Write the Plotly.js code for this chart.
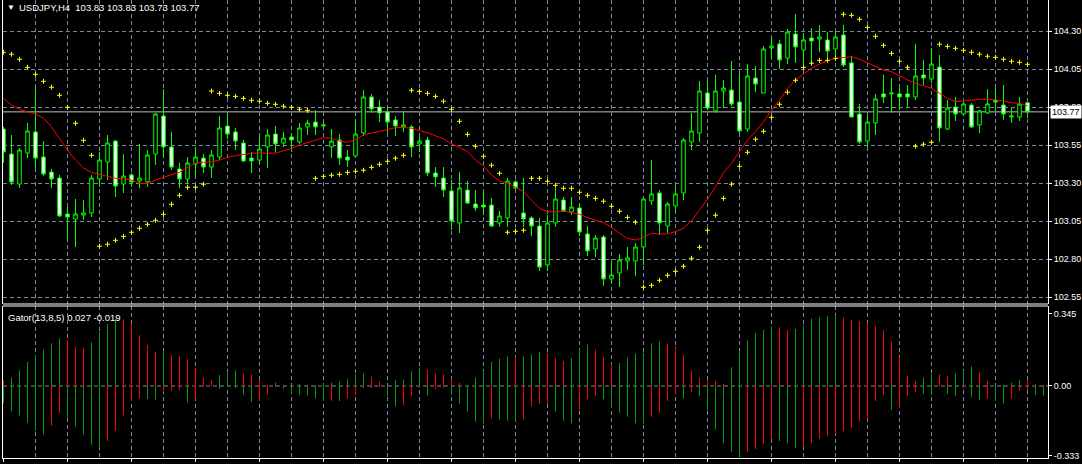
<!DOCTYPE html>
<html><head><meta charset="utf-8">
<script src="https://cdn.plot.ly/plotly-3.0.1.min.js"></script>
<style>html,body{margin:0;padding:0;background:#000;overflow:hidden}#chart{width:1082px;height:464px}</style>
</head><body><div id="chart"></div>
<script>
// ---- price bars (USDJPY, H4) ----
const opens = [103.657,103.493,103.295,103.499,103.638,103.473,103.374,103.335,103.098,103.065,103.091,103.105,103.328,103.440,103.578,103.295,103.355,103.315,103.309,103.493,103.743,103.539,103.394,103.328,103.427,103.466,103.407,103.473,103.677,103.638,103.565,103.466,103.453,103.539,103.624,103.565,103.605,103.572,103.671,103.703,103.677,103.539,103.585,103.473,103.480,103.631,103.868,103.802,103.769,103.717,103.671,103.671,103.559,103.585,103.368,103.335,103.250,103.039,103.256,103.164,103.157,103.157,103.039,103.072,103.309,103.105,103.072,103.019,102.763,103.039,103.190,103.111,103.138,102.967,102.868,102.947,102.671,102.710,102.789,102.789,102.881,103.184,103.236,103.019,103.151,103.236,103.572,103.631,103.894,103.776,103.907,103.914,103.835,103.657,103.993,103.894,104.190,104.217,104.124,104.282,104.177,104.256,104.249,104.243,104.184,104.276,104.092,103.756,103.578,103.697,103.888,103.888,103.888,103.888,103.868,104.013,103.986,104.065,103.657,103.802,103.756,103.815,103.684,103.763,103.848,103.815,103.736,103.736,103.83];
const highs = [103.671,103.618,103.532,103.697,103.934,103.578,103.394,103.355,103.144,103.197,103.190,103.355,103.506,103.618,103.585,103.493,103.368,103.559,103.519,103.763,103.920,103.638,103.434,103.473,103.539,103.493,103.519,103.743,103.756,103.664,103.585,103.506,103.611,103.657,103.677,103.638,103.631,103.697,103.717,103.782,103.703,103.657,103.624,103.519,103.723,103.914,103.888,103.848,103.802,103.743,103.769,103.684,103.605,103.605,103.407,103.407,103.322,103.374,103.315,103.256,103.243,103.203,103.118,103.335,103.322,103.335,103.085,103.072,103.091,103.269,103.210,103.210,103.170,103.019,102.960,102.960,102.776,102.835,102.881,102.907,103.203,103.453,103.256,103.177,103.282,103.598,103.763,103.973,103.973,104.013,103.980,104.105,104.032,104.085,104.072,104.203,104.263,104.243,104.315,104.414,104.289,104.322,104.342,104.295,104.302,104.342,104.138,103.822,103.749,103.888,104.013,103.993,103.927,103.947,104.217,104.111,104.190,104.144,103.848,103.868,103.835,103.828,103.782,103.920,103.927,103.947,103.795,103.868,103.83];
const lows = [103.434,103.289,103.269,103.466,103.401,103.348,103.269,103.078,102.940,102.881,103.059,103.078,103.276,103.322,103.210,103.236,103.276,103.269,103.276,103.421,103.466,103.388,103.269,103.295,103.348,103.368,103.335,103.453,103.592,103.519,103.440,103.368,103.421,103.401,103.506,103.539,103.506,103.559,103.618,103.618,103.664,103.466,103.421,103.407,103.473,103.611,103.763,103.703,103.631,103.611,103.638,103.473,103.506,103.348,103.276,103.210,102.993,102.973,103.165,103.118,103.091,103.013,103.013,103.013,103.256,103.013,102.953,102.723,102.723,103.013,103.111,103.091,102.953,102.822,102.815,102.624,102.644,102.618,102.730,102.690,102.763,103.157,102.960,102.973,103.124,103.190,103.519,103.572,103.782,103.763,103.795,103.809,103.631,103.638,103.901,103.894,104.124,104.052,104.085,104.092,104.045,104.098,104.164,104.105,104.124,104.065,103.733,103.559,103.539,103.618,103.828,103.763,103.782,103.802,103.848,103.947,103.960,103.572,103.651,103.710,103.749,103.664,103.631,103.756,103.776,103.717,103.697,103.710,103.73];
const closes = [103.506,103.309,103.519,103.644,103.466,103.361,103.328,103.085,103.078,103.098,103.105,103.335,103.453,103.565,103.282,103.348,103.309,103.335,103.486,103.756,103.539,103.407,103.328,103.434,103.473,103.407,103.486,103.664,103.624,103.578,103.447,103.447,103.526,103.618,103.559,103.598,103.585,103.664,103.697,103.671,103.684,103.578,103.466,103.453,103.624,103.868,103.789,103.763,103.703,103.677,103.684,103.539,103.578,103.368,103.342,103.256,103.052,103.269,103.170,103.138,103.144,103.019,103.085,103.315,103.269,103.065,103.019,102.749,103.039,103.197,103.118,103.144,102.980,102.855,102.940,102.671,102.697,102.796,102.809,102.881,103.197,103.230,103.039,103.164,103.230,103.585,103.644,103.907,103.795,103.907,103.927,103.822,103.644,104.006,103.953,104.184,104.203,104.111,104.295,104.197,104.243,104.236,104.263,104.170,104.263,104.078,103.736,103.572,103.703,103.855,103.868,103.894,103.868,103.868,104.006,103.993,104.085,103.664,103.795,103.756,103.822,103.671,103.776,103.822,103.835,103.756,103.743,103.822,103.77];

// ---- moving average (red line) ----
const maValues = [103.859,103.815,103.787,103.769,103.757,103.728,103.672,103.596,103.519,103.453,103.401,103.371,103.357,103.343,103.333,103.328,103.322,103.299,103.299,103.322,103.337,103.357,103.373,103.402,103.434,103.438,103.442,103.453,103.471,103.482,103.492,103.497,103.501,103.497,103.499,103.513,103.530,103.552,103.567,103.580,103.600,103.596,103.578,103.570,103.587,103.618,103.629,103.644,103.655,103.666,103.668,103.662,103.646,103.633,103.613,103.592,103.559,103.537,103.508,103.453,103.414,103.355,103.315,103.300,103.274,103.245,103.190,103.136,103.113,103.113,103.118,103.107,103.096,103.074,103.059,103.041,103.011,102.971,102.938,102.927,102.945,102.971,102.967,102.967,102.982,103.004,103.054,103.124,103.195,103.278,103.370,103.432,103.508,103.585,103.640,103.705,103.782,103.848,103.925,103.980,104.019,104.057,104.085,104.107,104.122,104.129,104.133,104.116,104.094,104.067,104.046,104.034,104.006,103.980,103.958,103.940,103.925,103.892,103.859,103.837,103.842,103.848,103.853,103.853,103.848,103.842,103.830,103.826,103.809];

// ---- parabolic SAR (yellow crosses) ----
const sarValues = [104.162,104.149,104.116,104.063,104.017,103.971,103.932,103.879,103.800,103.695,103.583,103.484,102.886,102.899,102.925,102.951,102.978,103.004,103.030,103.057,103.096,103.162,103.221,103.274,103.274,103.294,103.907,103.892,103.879,103.872,103.859,103.846,103.840,103.826,103.820,103.807,103.800,103.787,103.780,103.333,103.346,103.353,103.359,103.372,103.379,103.386,103.405,103.425,103.445,103.465,103.484,103.912,103.905,103.892,103.872,103.840,103.787,103.708,103.622,103.544,103.478,103.419,103.366,102.978,102.984,102.991,103.333,103.333,103.313,103.287,103.267,103.267,103.241,103.221,103.201,103.182,103.149,103.116,103.076,103.044,102.616,102.629,102.662,102.695,102.721,102.754,102.807,102.879,102.991,103.090,103.201,103.294,103.412,103.504,103.590,103.642,103.734,103.820,103.899,103.978,104.063,104.090,104.109,104.109,104.122,104.412,104.405,104.379,104.326,104.267,104.208,104.155,104.103,104.063,103.544,103.557,103.570,104.215,104.201,104.188,104.175,104.162,104.149,104.136,104.129,104.116,104.103,104.096,104.083];

// ---- Gator oscillator (13,8,5) ----
const gatorUpper = [0.027,0.040,0.075,0.114,0.147,0.173,0.203,0.227,0.218,0.188,0.183,0.208,0.257,0.295,0.319,0.317,0.295,0.242,0.195,0.163,0.165,0.147,0.143,0.127,0.086,0.040,0.027,0.052,0.068,0.075,0.060,0.055,0.029,0.003,0.016,0.006,0.004,0.011,0.006,0.003,0.011,0.016,0.021,0.034,0.058,0.060,0.045,0.021,0.001,0.029,0.031,0.070,0.088,0.078,0.060,0.055,0.034,0.016,0.004,0.040,0.070,0.114,0.131,0.140,0.138,0.141,0.150,0.163,0.158,0.133,0.119,0.133,0.176,0.198,0.173,0.138,0.105,0.109,0.135,0.155,0.158,0.204,0.212,0.202,0.188,0.148,0.075,0.040,0.026,0.025,0.010,0.089,0.166,0.217,0.252,0.267,0.285,0.280,0.267,0.272,0.288,0.321,0.328,0.334,0.336,0.326,0.316,0.308,0.301,0.286,0.267,0.212,0.138,0.049,0.025,0.040,0.059,0.056,0.046,0.059,0.074,0.094,0.064,0.025,0.002,0.005,0.015,0.030,0.027,0.010,0.005];
const gatorLower = [-0.082,-0.120,-0.140,-0.175,-0.213,-0.230,-0.189,-0.127,-0.150,-0.192,-0.230,-0.280,-0.295,-0.262,-0.213,-0.140,-0.071,-0.058,-0.062,-0.066,-0.028,-0.020,-0.019,-0.078,-0.063,-0.002,-0.001,-0.014,-0.004,-0.010,-0.040,-0.076,-0.070,-0.040,-0.005,-0.012,-0.040,-0.042,-0.045,-0.060,-0.072,-0.070,-0.072,-0.060,-0.045,-0.010,-0.009,-0.005,-0.048,-0.098,-0.092,-0.050,-0.010,-0.045,-0.015,-0.008,-0.042,-0.085,-0.122,-0.170,-0.180,-0.155,-0.160,-0.165,-0.170,-0.160,-0.097,-0.085,-0.084,-0.122,-0.166,-0.178,-0.117,-0.063,-0.048,-0.063,-0.104,-0.128,-0.147,-0.178,-0.180,-0.147,-0.128,-0.072,-0.040,-0.059,-0.030,-0.048,-0.117,-0.207,-0.273,-0.314,-0.334,-0.314,-0.300,-0.278,-0.252,-0.262,-0.273,-0.295,-0.290,-0.273,-0.252,-0.240,-0.227,-0.215,-0.199,-0.170,-0.158,-0.072,-0.043,-0.114,-0.102,-0.048,-0.030,-0.038,-0.043,-0.002,-0.038,-0.048,-0.013,-0.054,-0.067,-0.059,-0.071,-0.084,-0.059,-0.023,-0.019,-0.043,-0.045];

// ---- axis labels ----
const priceTicks = [102.55,102.80,103.05,103.30,103.55,103.80,104.05,104.30];
const gatorTicks = [0.345,0.00,-0.333];
const gatorTickText = ['0.345','0.00','-0.333'];
const timeLabels = ['16 Dec 2020','17 Dec 12:00','18 Dec 20:00','22 Dec 04:00','23 Dec 12:00','24 Dec 20:00','29 Dec 04:00','30 Dec 12:00','31 Dec 20:00','5 Jan 04:00','6 Jan 12:00','7 Jan 20:00','11 Jan 04:00','12 Jan 12:00','13 Jan 20:00','15 Jan 04:00','18 Jan 12:00'];
const timeLabelBars = [0,8,16,24,32,40,48,56,64,72,80,88,96,104,112,120,128];
const lastPrice = 103.77;

// ---- build ----
const FONT = 'Liberation Sans, Arial, sans-serif';
const GRID = '#778899';
const xs = opens.map((_, i) => i);
const gx = gatorUpper.map((_, i) => i);
const GREEN = '#00A000', RED = '#FF0000';
const upCol = [], loCol = [];
gatorUpper.forEach((v, i) => {
  if (i === 0) upCol.push(RED);
  else if (v > gatorUpper[i-1]) upCol.push(GREEN);
  else if (v < gatorUpper[i-1]) upCol.push(RED);
  else upCol.push(upCol[i-1]);
});
gatorLower.forEach((v, i) => {
  if (i === 0) loCol.push(GREEN);
  else if (Math.abs(v) > Math.abs(gatorLower[i-1])) loCol.push(GREEN);
  else if (Math.abs(v) < Math.abs(gatorLower[i-1])) loCol.push(RED);
  else loCol.push(loCol[i-1]);
});

const gridBars = [];
for (let k = 4; k <= 128; k += 4) gridBars.push(k);

const traces = [
  {type:'candlestick', x:xs, open:opens, high:highs, low:lows, close:closes, xaxis:'x', yaxis:'y',
   increasing:{line:{color:'#00FF00', width:1}, fillcolor:'#000000'},
   decreasing:{line:{color:'#00FF00', width:1}, fillcolor:'#FFFFFF'},
   whiskerwidth:0, hoverinfo:'skip', showlegend:false},
  {type:'scatter', mode:'lines', x:xs, y:maValues, xaxis:'x', yaxis:'y',
   line:{color:'#FF0000', width:1}, hoverinfo:'skip', showlegend:false},
  {type:'scatter', mode:'markers', x:xs, y:sarValues, xaxis:'x', yaxis:'y',
   marker:{symbol:'cross-thin', size:3.5, color:'#FFFF00', line:{color:'#FFFF00', width:1}},
   hoverinfo:'skip', showlegend:false},
  {type:'bar', x:gx, y:gatorUpper, xaxis:'x', yaxis:'y2', width:0.125,
   marker:{color:upCol, line:{width:0}}, hoverinfo:'skip', showlegend:false},
  {type:'bar', x:gx, y:gatorLower, xaxis:'x', yaxis:'y2', width:0.125,
   marker:{color:loCol, line:{width:0}}, hoverinfo:'skip', showlegend:false}
];

const mainBottom = (458-304)/458, lowerTop = (458-306)/458;
const shapes = [
  {type:'line', xref:'paper', yref:'paper', x0:0, x1:1, y0:mainBottom, y1:mainBottom, line:{color:'#FFFFFF', width:1}, layer:'above'},
  {type:'line', xref:'paper', yref:'paper', x0:0, x1:1, y0:lowerTop, y1:lowerTop, line:{color:'#FFFFFF', width:1}, layer:'above'},
  {type:'line', xref:'paper', yref:'y2', x0:0, x1:1, y0:0, y1:0, line:{color:GRID, width:1, dash:'4px,3px'}, layer:'below'},
  {type:'line', xref:'paper', yref:'y', x0:0, x1:1, y0:lastPrice, y1:lastPrice, line:{color:'#C0C0C0', width:1}, layer:'below'}
];
timeLabelBars.forEach(k => shapes.push({type:'line', xref:'x', yref:'paper', ysizemode:'pixel', yanchor:0, x0:k, x1:k, y0:0, y1:-4, line:{color:'#FFFFFF', width:1}}));

const annotations = [
  {xref:'paper', yref:'paper', x:0, y:1, xanchor:'left', yanchor:'top', xshift:2, yshift:-1, showarrow:false,
   text:'\u25BC', font:{family:FONT, size:8, color:'#FFFFFF'}},
  {xref:'paper', yref:'paper', x:0, y:1, xanchor:'left', yanchor:'top', xshift:14, yshift:0, showarrow:false,
   text:'USDJPY,H4\u00A0\u00A0103.83 103.83 103.73 103.77', font:{family:FONT, size:9.5, color:'#FFFFFF'}},
  {xref:'paper', yref:'paper', x:0, y:lowerTop, xanchor:'left', yanchor:'top', xshift:3, yshift:-4, showarrow:false,
   text:'Gator(13,8,5) 0.027 -0.019', font:{family:FONT, size:9.5, color:'#FFFFFF'}},
  {xref:'paper', yref:'y', x:1, y:lastPrice, xanchor:'left', yanchor:'middle', xshift:2, showarrow:false,
   text:lastPrice.toFixed(2), bgcolor:'#FFFFFF', borderpad:1, font:{family:FONT, size:9, color:'#000000'}}
];
timeLabels.forEach((t, i) => annotations.push({xref:'x', yref:'paper', x:timeLabelBars[i], y:0, xanchor:'left', yanchor:'top',
  xshift:-2, yshift:-2, showarrow:false, text:t, font:{family:FONT, size:9, color:'#FFFFFF'}}));

const layout = {
  width:1082, height:464, margin:{l:3, r:34, t:0, b:6, pad:0},
  paper_bgcolor:'#000000', plot_bgcolor:'#000000', showlegend:false,
  barmode:'overlay', boxgap:0.375,
  font:{family:FONT, size:9, color:'#FFFFFF'},
  xaxis:{anchor:'y2', range:[-0.0625, 130.5625], tickmode:'array', tickvals:gridBars, showticklabels:false, ticks:'',
         showgrid:true, gridcolor:GRID, griddash:'4px,3px', gridwidth:1, zeroline:false,
         showline:true, linecolor:'#FFFFFF', linewidth:1, rangeslider:{visible:false}, fixedrange:true},
  yaxis:{domain:[mainBottom, 1], range:[102.506, 104.506], side:'right', tickmode:'array', tickvals:priceTicks,
         ticktext:priceTicks.map(v => v.toFixed(2)), ticks:'outside', ticklen:3, tickcolor:'#FFFFFF',
         showgrid:true, gridcolor:GRID, griddash:'4px,3px', gridwidth:1, zeroline:false,
         showline:true, mirror:true, linecolor:'#FFFFFF', linewidth:1, fixedrange:true,
         tickfont:{family:FONT, size:9, color:'#FFFFFF'}},
  yaxis2:{domain:[0, lowerTop], range:[-0.343, 0.381], side:'right', tickmode:'array', tickvals:gatorTicks,
          ticktext:gatorTickText, ticks:'outside', ticklen:3, tickcolor:'#FFFFFF', showgrid:false, zeroline:false,
          showline:true, mirror:true, linecolor:'#FFFFFF', linewidth:1, fixedrange:true,
          tickfont:{family:FONT, size:9, color:'#FFFFFF'}},
  shapes:shapes, annotations:annotations
};

Plotly.newPlot('chart', traces, layout, {staticPlot:true, displayModeBar:false});
</script>
</body></html>
